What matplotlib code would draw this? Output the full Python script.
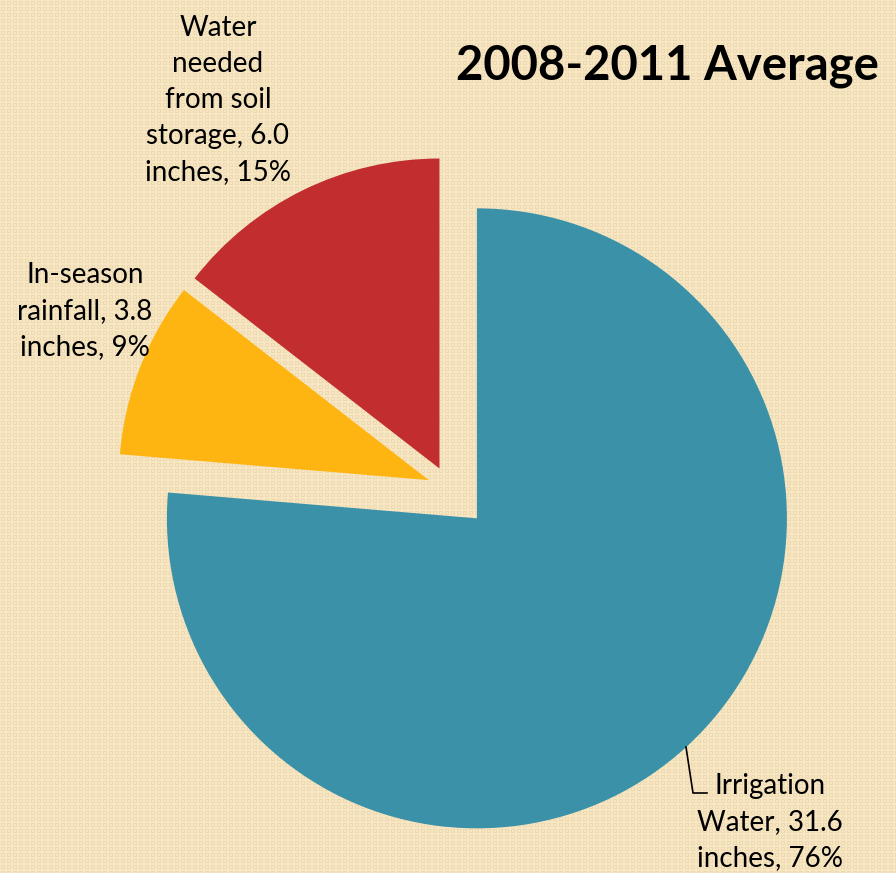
import numpy as np
import matplotlib
matplotlib.use("Agg")
import matplotlib.pyplot as plt
from matplotlib.colors import to_rgb

# data
SOURCES = ["Irrigation Water", "In-season rainfall", "Water needed from soil storage"]
INCHES = [31.6, 3.8, 6.0]
PERCENTS = [76, 9, 15]
LABELS = [
    "Irrigation\nWater, 31.6\ninches, 76%",
    "In-season\nrainfall, 3.8\ninches, 9%",
    "Water\nneeded\nfrom soil\nstorage, 6.0\ninches, 15%",
]
COLORS = ["#3A91A8", "#FFB511", "#C22D30"]
EXPLODE = [0.133, 0.07, 0.07]
TITLE = "2008-2011 Average"

W, H = 896, 873
R = 310.0                 # pie radius in pixels
CX, CY = 449.0, 488.0     # pie centre in pixels (from top-left)

plt.rcParams["font.family"] = ["Lato", "DejaVu Sans"]

fig = plt.figure(figsize=(W / 100, H / 100), dpi=100)

# background texture: small checker of square outlines
bg = fig.add_axes([0, 0, 1, 1])
bg.set_axis_off()
base = np.array(to_rgb("#F7E6C1"))
dark = np.array(to_rgb("#EBD9B2"))
yy, xx = np.mgrid[0:H, 0:W]
px, py = xx % 6, yy % 6
ring = ((px >= 1) & (px <= 4) & ((py == 1) | (py == 4))) | ((py >= 1) & (py <= 4) & ((px == 1) | (px == 4)))
tex = np.where(ring[..., None], dark, base)
bg.imshow(tex, interpolation="nearest", aspect="auto", extent=(0, W, H, 0))
bg.set_xlim(0, W)
bg.set_ylim(H, 0)

# pie axes: 1 data unit == R pixels
ax = fig.add_axes([0, 0, 1, 1])
ax.set_axis_off()
ax.patch.set_alpha(0)
ax.pie(INCHES, colors=COLORS, explode=EXPLODE, startangle=90, counterclock=False,
       radius=1.0, wedgeprops=dict(linewidth=0))
ax.set_xlim(-CX / R, (W - CX) / R)
ax.set_ylim(-(H - CY) / R, CY / R)

# text in pixel coordinates
tx = fig.add_axes([0, 0, 1, 1])
tx.set_axis_off()
tx.patch.set_alpha(0)
tx.set_xlim(0, W)
tx.set_ylim(H, 0)

tx.text(667, 66, TITLE, fontsize=34, fontweight="bold", ha="center", va="center")

lab_kw = dict(fontsize=20, ha="center", va="center", linespacing=1.48)
tx.text(218, 100, LABELS[2], **lab_kw)
tx.text(85, 311, LABELS[1], **lab_kw)
tx.text(770, 822, LABELS[0], **lab_kw)

# leader line for irrigation label
tx.plot([686, 693, 707], [747, 793, 793], color="black", linewidth=1.2)

fig.savefig("out.png", dpi=100)
